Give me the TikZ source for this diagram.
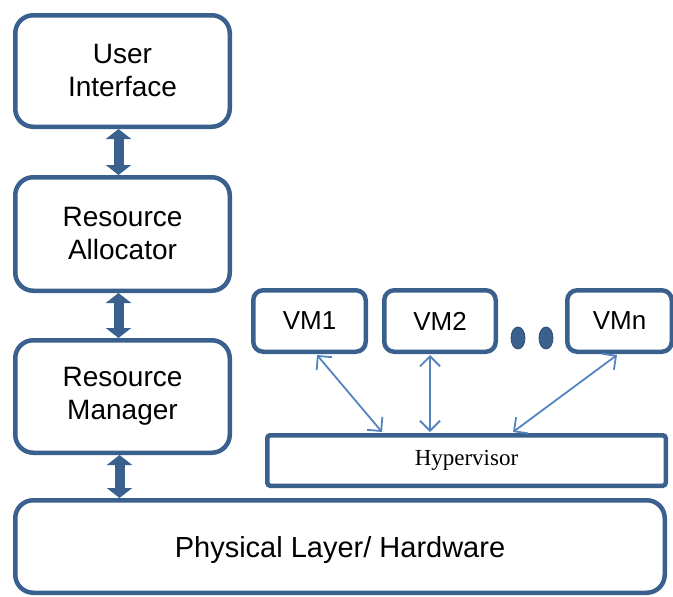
\documentclass[tikz,border=0pt]{standalone}
\usepackage{fontspec}
\setmainfont{Liberation Sans}
\newfontfamily\serifface{Liberation Serif}
\usetikzlibrary{arrows.meta,calc,shapes.geometric}
\definecolor{frame}{RGB}{58,96,142}
\definecolor{link}{RGB}{84,132,192}
\tikzset{
  layerbox/.style={draw=frame, line width=4.5pt, rounded corners=18pt, fill=white,
    align=center, font=\fontsize{28}{33}\selectfont, inner sep=0pt},
  vmbox/.style={draw=frame, line width=4.5pt, rounded corners=10pt, fill=white,
    font=\fontsize{26}{30}\selectfont, inner sep=0pt},
  flatbox/.style={draw=frame, line width=4.5pt, rounded corners=3pt, fill=white,
    font=\serifface\fontsize{23}{27}\selectfont, inner sep=0pt},
  bigarrow/.style={draw=frame, line width=10pt,
    {Triangle[length=10pt,width=25pt]}-{Triangle[length=10pt,width=25pt]}},
  thinarrow/.style={draw=link, line width=1.8pt,
    {Straight Barb[length=10pt,width=20pt,line width=1.8pt]}-{Straight Barb[length=10pt,width=20pt,line width=1.8pt]}},
  vmdot/.style={fill=frame, draw=frame!80!black, line width=0.8pt}
}
\begin{document}
\begin{tikzpicture}[x=1pt,y=-1pt]
  \useasboundingbox (0,0) rectangle (673,597);
  \clip (0,0) rectangle (673,597);

  % management stack on the left
  \node[layerbox, minimum width=214.5pt, minimum height=111.5pt] (ui) at (122.5,71) {User\\Interface};
  \node[layerbox, minimum width=214.5pt, minimum height=113.5pt] (ra) at (122.5,234) {Resource\\Allocator};
  \node[layerbox, minimum width=214.5pt, minimum height=112.5pt] (rm) at (122.5,396.5) {Resource\\Manager};

  % physical layer at the bottom
  \node[layerbox, minimum width=649.5pt, minimum height=92.5pt] (pl) at (340,546.5) {};
  \node[font=\fontsize{29}{33}\selectfont] (pltext) at (340,550) {Physical Layer/ Hardware};

  % virtual machines and hypervisor
  \node[vmbox, minimum width=112.5pt, minimum height=61.5pt] (vm1) at (309.5,321) {VM1};
  \node[vmbox, minimum width=111.5pt, minimum height=61.5pt] (vm2) at (440,321) {VM2};
  \node[vmbox, minimum width=104.5pt, minimum height=61.5pt] (vmn) at (619.5,321) {VMn};
  \node[flatbox, minimum width=398.5pt, minimum height=50.5pt] (hyp) at (466.5,460.5) {Hypervisor};

  % ellipsis between VM2 and VMn
  \node[vmdot, ellipse, minimum width=14pt, minimum height=22pt, inner sep=0pt] (d1) at (518,338) {};
  \node[vmdot, ellipse, minimum width=14pt, minimum height=22pt, inner sep=0pt] (d2) at (546,338) {};

  % thick links in the stack
  \draw[bigarrow] ([xshift=-4pt]ui.south) -- ([xshift=-4pt]ra.north);
  \draw[bigarrow] ([xshift=-4pt]ra.south) -- ([xshift=-4pt]rm.north);
  \draw[bigarrow] ([xshift=-3pt]rm.south) -- ([xshift=-3pt]rm.south |- pl.north);

  % links from the VMs to the hypervisor
  \draw[thinarrow] ([xshift=7.5pt,yshift=-1pt]vm1.south) -- ([xshift=-84.5pt,yshift=1pt]hyp.north);
  \draw[thinarrow] ([xshift=-10pt,yshift=-1pt]vm2.south) -- ([xshift=-36.5pt,yshift=1pt]hyp.north);
  \draw[thinarrow] ([xshift=-2.5pt,yshift=-1pt]vmn.south) -- ([xshift=46.5pt,yshift=1pt]hyp.north);
\end{tikzpicture}
\end{document}
